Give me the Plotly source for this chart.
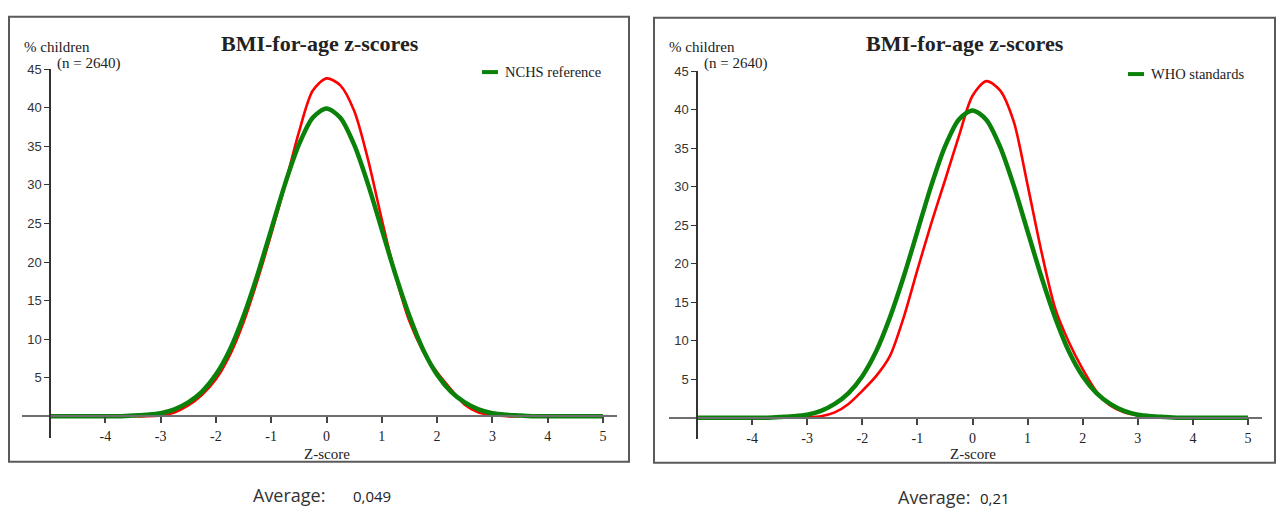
import plotly.graph_objects as go

# Z-score grid for the reference curves (NCHS / WHO)
z_ref = [-5.0, -4.5, -4.0, -3.75, -3.5, -3.25, -3.0, -2.75, -2.5, -2.25, -2.0, -1.75,
         -1.5, -1.25, -1.0, -0.75, -0.5, -0.25, 0.0, 0.25, 0.5, 0.75, 1.0, 1.25, 1.5,
         1.75, 2.0, 2.25, 2.5, 2.75, 3.0, 3.25, 3.5, 3.75, 4.0, 4.5, 5.0]
pct_ref = [0.0, 0.0, 0.0, 0.0, 0.1, 0.2, 0.4, 0.9, 1.8, 3.2, 5.4, 8.6,
           13.0, 18.3, 24.2, 30.1, 35.2, 38.7, 39.9, 38.7, 35.2, 30.1, 24.2, 18.3, 13.0,
           8.6, 5.4, 3.2, 1.8, 0.9, 0.4, 0.2, 0.1, 0.0, 0.0, 0.0, 0.0]

# Z-score grid for the observed sample (n = 2640)
z_obs = [-3.5, -3.25, -3.0, -2.75, -2.5, -2.25, -2.0, -1.75, -1.5, -1.25, -1.0, -0.75,
         -0.5, -0.25, 0.0, 0.25, 0.5, 0.75, 1.0, 1.25, 1.5, 1.75, 2.0, 2.25, 2.5,
         2.75, 3.0, 3.25, 3.5]
pct_obs_nchs = [0.0, 0.0, 0.1, 0.5, 1.4, 2.8, 4.8, 7.9, 12.2, 17.6, 23.6, 30.0,
                36.8, 42.2, 43.8, 42.9, 39.6, 33.3, 25.5, 18.2, 12.3, 8.4, 5.7, 3.5, 1.5,
                0.5, 0.2, 0.0, 0.0]
pct_obs_who = [0.0, 0.0, 0.05, 0.2, 0.7, 1.8, 3.5, 5.4, 8.0, 13.0, 19.2, 25.2,
               30.8, 36.5, 41.8, 43.7, 42.5, 38.4, 30.2, 21.6, 14.2, 9.8, 6.3, 3.4, 1.6,
               0.7, 0.3, 0.1, 0.0]

x_ticks = [-4, -3, -2, -1, 0, 1, 2, 3, 4, 5]
x_tick_labels = ["-4", "-3", "-2", "-1", "0", "1", "2", "3", "4", "5"]
y_ticks = [5, 10, 15, 20, 25, 30, 35, 40, 45]

panel_titles = ["BMI-for-age z-scores", "BMI-for-age z-scores"]
legend_names = ["NCHS reference", "WHO standards"]
averages = ["0,049", "0,21"]

W, H = 1277, 509
SERIF = "Liberation Serif"
RED = "#ff0000"
GREEN = "#0a820a"


def fx(p):
    return p / W


def fy(p):
    return 1 - p / H


# pixel layout of each panel: frame box, origin of the axes and scale
panels = [
    dict(box=(9, 10, 629, 461), x_m5=50, x_p5=603, y0=415, y45=63,
         xl=22, xr=617, yb=437, avg_x=289, avg_val_x=372, avg_y=495),
    dict(box=(654, 11, 1275, 462), x_m5=697, x_p5=1248, y0=416.5, y45=65,
         xl=669, xr=1262, yb=438, avg_x=934, avg_val_x=995, avg_y=497),
]
obs_series = [pct_obs_nchs, pct_obs_who]

fig = go.Figure()
layout = dict(
    width=W, height=H, margin=dict(l=0, r=0, t=0, b=0),
    paper_bgcolor="white", plot_bgcolor="white", showlegend=False,
)
shapes = []
annotations = []

for i, p in enumerate(panels):
    xa = 2 * i + 1          # main axis
    xb = 2 * i + 2          # overlay axis for inward tick marks
    ux = (p["x_p5"] - p["x_m5"]) / 10.0
    uy = (p["y0"] - p["y45"]) / 45.0
    xr = [-5 + (p["xl"] - p["x_m5"]) / ux, -5 + (p["xr"] - p["x_m5"]) / ux]
    yr = [-(p["yb"] - p["y0"]) / uy, 45.0]
    xdom = [fx(p["xl"]), fx(p["xr"])]
    ydom = [fy(p["yb"]), fy(p["y45"])]

    common_x = dict(domain=xdom, range=xr, showgrid=False, zeroline=False,
                    tickmode="array", tickvals=x_ticks, ticktext=x_tick_labels,
                    fixedrange=True, anchor="free", position=fy(p["y0"]))
    common_y = dict(domain=ydom, range=yr, showgrid=False, zeroline=False,
                    tickvals=y_ticks, fixedrange=True, anchor="free",
                    position=fx(p["x_m5"]))

    layout[f"xaxis{xa}"] = dict(
        **common_x, showline=True, linecolor="#6e6e6e", linewidth=2,
        ticks="outside", ticklen=6, tickwidth=1.5, tickcolor="#444",
        ticklabelstandoff=1,
        tickfont=dict(family=SERIF, size=14, color="#222"),
    )
    layout[f"xaxis{xb}"] = dict(
        **common_x, overlaying=f"x{xa}", showline=False, ticks="inside",
        ticklen=6, tickwidth=1.5, tickcolor="#444", showticklabels=False,
    )
    layout[f"yaxis{xa}"] = dict(
        **common_y, showline=True, linecolor="#333", linewidth=1.5,
        ticks="outside", ticklen=5, tickwidth=1.2, tickcolor="#333",
        tickfont=dict(family="Liberation Sans", size=13, color="#333"),
    )
    layout[f"yaxis{xb}"] = dict(
        **common_y, overlaying=f"y{xa}", showline=False, ticks="inside",
        ticklen=4, tickwidth=1.2, tickcolor="#333", showticklabels=False,
    )

    # observed sample curve
    fig.add_trace(go.Scatter(
        x=z_obs, y=obs_series[i], mode="lines",
        line=dict(color=RED, width=2.6, shape="spline", smoothing=0.8),
        xaxis=f"x{xa}", yaxis=f"y{xa}", name="Sample", hoverinfo="skip",
    ))
    # reference curve
    fig.add_trace(go.Scatter(
        x=z_ref, y=pct_ref, mode="lines",
        line=dict(color=GREEN, width=4.5, shape="spline", smoothing=0.8),
        xaxis=f"x{xa}", yaxis=f"y{xa}", name=legend_names[i], hoverinfo="skip",
    ))

    x0, y0, x1, y1 = p["box"]
    shapes.append(dict(type="rect", xref="paper", yref="paper",
                       x0=fx(x0), x1=fx(x1), y0=fy(y1), y1=fy(y0),
                       line=dict(color="#5a5a5a", width=2), layer="below"))

    annotations += [
        dict(text=f"<b>{panel_titles[i]}</b>", x=fx(x0 + 311), y=fy(37),
             font=dict(family=SERIF, size=22, color="#222")),
        dict(text="% children", x=fx(x0 + 13), y=fy(41), xanchor="left",
             font=dict(family=SERIF, size=15, color="#222")),
        dict(text="(n = 2640)", x=fx(p["x_m5"] + 5), y=fy(57), xanchor="left",
             font=dict(family=SERIF, size=15, color="#222")),
        dict(text="Z-score", x=fx(p["x_m5"] + 5 * ux), y=fy(453),
             font=dict(family=SERIF, size=15, color="#222")),
        dict(text=legend_names[i], x=fx(x1 - 126), y=fy(66 + i * 2), xanchor="left",
             font=dict(family=SERIF, size=14.5, color="#222")),
        dict(text="Average:", x=fx(p["avg_x"]), y=fy(p["avg_y"]),
             font=dict(family="Open Sans", size=18, color="#333")),
        dict(text=averages[i], x=fx(p["avg_val_x"]), y=fy(p["avg_y"] + 1),
             font=dict(family="Open Sans", size=15, color="#222")),
    ]
    # legend key line
    shapes.append(dict(type="line", xref="paper", yref="paper",
                       x0=fx(x1 - 147), x1=fx(x1 - 131),
                       y0=fy(66 + i * 2), y1=fy(66 + i * 2),
                       line=dict(color=GREEN, width=4)))

for a in annotations:
    a.update(xref="paper", yref="paper", showarrow=False)
    a.setdefault("xanchor", "center")
    a.setdefault("yanchor", "middle")

layout["shapes"] = shapes
layout["annotations"] = annotations
fig.update_layout(**layout)
fig.write_html("out.html")
